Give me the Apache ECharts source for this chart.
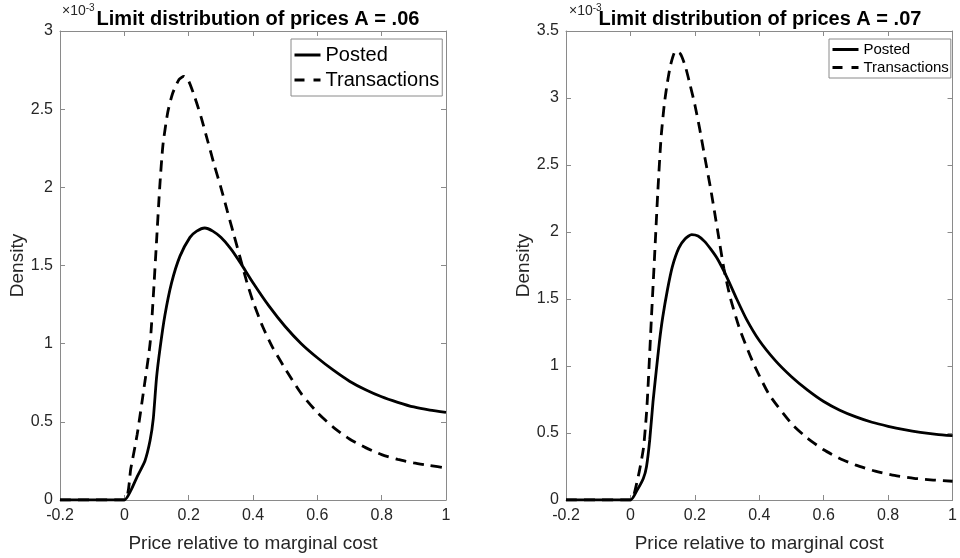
<!DOCTYPE html>
<html>
<head>
<meta charset="utf-8">
<script src="https://cdn.jsdelivr.net/npm/echarts@6/dist/echarts.min.js"></script>
<style>
  html, body { margin: 0; padding: 0; background: #fff; }
  #chart { width: 960px; height: 558px; }
</style>
</head>
<body>
<div id="chart"></div>
<script>
// Limit distribution of prices, two panels (A = .06 and A = .07)
const FONT = 'Liberation Sans, Arial, Helvetica, sans-serif';

// Panel A = .06
const postedX06 = [-0.2, 0, 0.02, 0.04, 0.064, 0.08, 0.09, 0.1, 0.111, 0.126, 0.147, 0.173, 0.204, 0.225, 0.25, 0.275, 0.3, 0.33, 0.36, 0.4, 0.45, 0.5, 0.55, 0.6, 0.65, 0.7, 0.75, 0.8, 0.85, 0.9, 0.95, 1.0];
const postedY06 = [0, 0, 0.06, 0.15, 0.25, 0.38, 0.52, 0.78, 0.97, 1.18, 1.39, 1.56, 1.68, 1.72, 1.74, 1.72, 1.68, 1.61, 1.52, 1.39, 1.24, 1.11, 1.0, 0.91, 0.83, 0.76, 0.705, 0.66, 0.625, 0.595, 0.575, 0.56];
const transX06 = [-0.2, 0, 0.02, 0.04, 0.06, 0.08, 0.09, 0.1, 0.11, 0.12, 0.135, 0.15, 0.17, 0.185, 0.2, 0.22, 0.24, 0.26, 0.28, 0.3, 0.32, 0.34, 0.36, 0.38, 0.4, 0.43, 0.46, 0.5, 0.55, 0.6, 0.65, 0.7, 0.75, 0.8, 0.85, 0.9, 0.95, 1.0];
const transY06 = [0, 0, 0.2, 0.42, 0.7, 1.0, 1.3, 1.65, 2.0, 2.27, 2.48, 2.6, 2.69, 2.71, 2.68, 2.57, 2.44, 2.29, 2.14, 2.0, 1.85, 1.70, 1.55, 1.40, 1.27, 1.11, 0.98, 0.84, 0.68, 0.56, 0.465, 0.39, 0.335, 0.29, 0.26, 0.237, 0.22, 0.205];

// Panel A = .07
const postedX07 = [-0.2, 0, 0.02, 0.04, 0.05, 0.06, 0.07, 0.08, 0.09, 0.1, 0.115, 0.13, 0.15, 0.17, 0.19, 0.21, 0.23, 0.25, 0.27, 0.3, 0.33, 0.36, 0.4, 0.45, 0.5, 0.55, 0.6, 0.65, 0.7, 0.75, 0.8, 0.85, 0.9, 0.95, 1.0];
const postedY07 = [0, 0, 0.07, 0.16, 0.25, 0.45, 0.73, 0.96, 1.18, 1.36, 1.57, 1.74, 1.88, 1.95, 1.98, 1.97, 1.93, 1.87, 1.80, 1.66, 1.50, 1.35, 1.19, 1.04, 0.92, 0.82, 0.735, 0.67, 0.62, 0.58, 0.55, 0.525, 0.505, 0.49, 0.48];
const transX07 = [-0.2, 0, 0.02, 0.04, 0.05, 0.055, 0.065, 0.075, 0.085, 0.095, 0.105, 0.115, 0.125, 0.14, 0.155, 0.17, 0.185, 0.2, 0.215, 0.23, 0.25, 0.27, 0.29, 0.31, 0.34, 0.38, 0.43, 0.5, 0.55, 0.6, 0.65, 0.7, 0.76, 0.82, 0.88, 0.94, 1.0];
const transY07 = [0, 0, 0.13, 0.38, 0.65, 0.86, 1.35, 1.82, 2.3, 2.7, 2.95, 3.12, 3.25, 3.35, 3.33, 3.24, 3.1, 2.95, 2.77, 2.57, 2.31, 2.02, 1.73, 1.51, 1.27, 1.03, 0.79, 0.57, 0.46, 0.375, 0.31, 0.26, 0.215, 0.183, 0.162, 0.149, 0.14];

const pairs = (xs, ys) => xs.map((x, i) => [x, ys[i]]);

const boxColor = '#8a8a8a';
const labelColor = '#262626';

function xAxes(gridIndex) {
  const base = {
    type: 'value', gridIndex, min: -0.2, max: 1, interval: 0.2,
    axisLine: { show: true, onZero: false, lineStyle: { color: boxColor, width: 1 } },
    axisTick: { show: true, inside: true, length: 5, lineStyle: { color: boxColor } },
    splitLine: { show: false },
  };
  return [
    {
      ...base, position: 'bottom',
      axisLabel: { color: labelColor, fontFamily: FONT, fontSize: 16, margin: 8 },
      name: 'Price relative to marginal cost', nameLocation: 'middle', nameGap: 34,
      nameTextStyle: { color: labelColor, fontFamily: FONT, fontSize: 19 },
    },
    { ...base, position: 'top', axisLabel: { show: false } },
  ];
}

function yAxes(gridIndex, max) {
  const base = {
    type: 'value', gridIndex, min: 0, max, interval: 0.5,
    axisLine: { show: true, onZero: false, lineStyle: { color: boxColor, width: 1 } },
    axisTick: { show: true, inside: true, length: 5, lineStyle: { color: boxColor } },
    splitLine: { show: false },
  };
  return [
    {
      ...base, position: 'left',
      axisLabel: { color: labelColor, fontFamily: FONT, fontSize: 16, margin: 7 },
      name: 'Density', nameLocation: 'middle', nameGap: 28, nameRotate: 90,
      nameTextStyle: { color: labelColor, fontFamily: FONT, fontSize: 19 },
    },
    { ...base, position: 'right', axisLabel: { show: false } },
  ];
}

function line(name, data, xi, yi, dashed) {
  return {
    name, type: 'line', data, xAxisIndex: xi, yAxisIndex: yi,
    symbol: 'none', smooth: 0.2, animation: false,
    lineStyle: { color: '#000', width: 2.8, type: dashed ? [11, 7] : 'solid' },
    itemStyle: { color: '#000' },
  };
}

function legend(left, fontSize, gap, pad) {
  return {
    left, top: 39, orient: 'vertical',
    data: [
      { name: 'Posted', lineStyle: { type: 'solid', width: 3 } },
      { name: 'Transactions', lineStyle: { type: [10, 9], width: 3 } },
    ],
    itemWidth: 26, itemHeight: 12, itemGap: gap, padding: pad,
    itemStyle: { opacity: 0 },
    borderColor: boxColor, borderWidth: 1, backgroundColor: '#fff',
    textStyle: { color: '#000', fontFamily: FONT, fontSize },
    selectedMode: false,
  };
}

const chart = echarts.init(document.getElementById('chart'), null, { renderer: 'canvas' });
chart.setOption({
  backgroundColor: '#fff',
  animation: false,
  title: [
    { text: 'Limit distribution of prices A = .06', left: 253, top: 4, textAlign: 'center',
      textStyle: { fontFamily: FONT, fontSize: 20, fontWeight: 'bold', color: '#000' } },
    { text: 'Limit distribution of prices A = .07', left: 755, top: 4, textAlign: 'center',
      textStyle: { fontFamily: FONT, fontSize: 20, fontWeight: 'bold', color: '#000' } },
  ],
  graphic: [
    { type: 'text', left: 62, top: 3, z: 0,
      style: { text: '{a|×10}{b|-3}', rich: {
        a: { fontFamily: FONT, fontSize: 14, fill: labelColor },
        b: { fontFamily: FONT, fontSize: 10, fill: labelColor, verticalAlign: 'top', padding: [0, 0, 6, 0] } } } },
    { type: 'text', left: 569, top: 3, z: 0,
      style: { text: '{a|×10}{b|-3}', rich: {
        a: { fontFamily: FONT, fontSize: 14, fill: labelColor },
        b: { fontFamily: FONT, fontSize: 10, fill: labelColor, verticalAlign: 'top', padding: [0, 0, 6, 0] } } } },
  ],
  legend: [
    legend(291, 20, 5, [6, 3, 6, 2]),
    legend(829, 15, 3, [3, 2, 3, 2]),
  ],
  grid: [
    { left: 60, right: 514, top: 31, bottom: 55 },
    { left: 566, right: 7, top: 31, bottom: 56 },
  ],
  xAxis: [...xAxes(0), ...xAxes(1)],
  yAxis: [...yAxes(0, 3), ...yAxes(1, 3.5)],
  series: [
    line('Posted', pairs(postedX06, postedY06), 0, 0, false),
    line('Transactions', pairs(transX06, transY06), 0, 0, true),
    line('Posted', pairs(postedX07, postedY07), 2, 2, false),
    line('Transactions', pairs(transX07, transY07), 2, 2, true),
  ],
});
</script>
</body>
</html>
